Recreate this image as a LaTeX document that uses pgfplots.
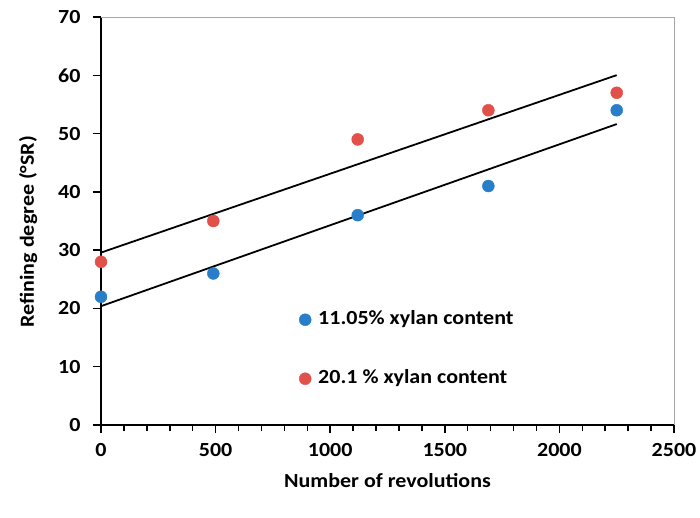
\documentclass[border=0pt]{standalone}
\usepackage{fontspec}
\setmainfont{Carlito}[FakeStretch=1.1]
\usepackage{pgfplots}
\usepackage{pgfplotstable}
\pgfplotsset{compat=1.18}

\definecolor{lowblue}{RGB}{40,126,200}
\definecolor{highred}{RGB}{226,80,74}

% Refining degree vs. number of PFI revolutions
\pgfplotstableread{
x y
0 22
490 26
1120 36
1690 41
2250 54
}\lowxylan
\pgfplotstableread{
x y
0 28
490 35
1120 49
1690 54
2250 57
}\highxylan

\newcommand{\chartfont}{\fontsize{20}{24}\selectfont\bfseries}

\begin{document}
\begin{tikzpicture}
\begin{axis}[
  scale only axis,
  width=573pt, height=408pt,
  xmin=0, xmax=2500, ymin=0, ymax=70,
  axis lines*=left,
  axis line style={line width=1.8pt, black, shorten >=0pt, shorten <=0pt},
  xtick={0,500,...,2500},
  ytick={0,10,...,70},
  minor x tick num=4,
  tick align=outside,
  major tick length=8pt, minor tick length=6pt,
  every tick/.style={line width=1.5pt, black},
  /pgf/number format/assume math mode=true,
  /pgf/number format/1000 sep={},
  tick label style={font=\chartfont},
  xticklabel style={yshift=-7pt},
  yticklabel style={xshift=-9pt},
  every axis x label/.style={at={(axis description cs:0.5,-0.137)}, anchor=center, font=\chartfont},
  every axis y label/.style={at={(axis description cs:-0.127,0.474)}, anchor=center, rotate=90, font=\chartfont},
  xlabel={Number of revolutions},
  ylabel={Refining degree (°SR)},
  legend style={
    at={(axis cs:864,13.0)}, anchor=west,
    draw=none, fill=none, inner sep=0pt,
    font=\chartfont,
    row sep=42pt,
    nodes={inner sep=0pt, text height=13pt, text depth=4pt},
    /tikz/every odd column/.append style={column sep=7pt},
  },
  legend cell align=left,
  legend image code/.code={\draw[#1] plot coordinates {(6pt,0pt)};},
  clip=false,
]
\addplot[only marks, mark=*, mark size=6pt, color=lowblue] table[x=x, y=y] {\lowxylan};
\addlegendentry{11.05\% xylan content}
\addplot[only marks, mark=*, mark size=6pt, color=highred] table[x=x, y=y] {\highxylan};
\addlegendentry{20.1 \% xylan content}

% least-squares trend lines of both series
\addplot[forget plot, black, line width=1.8pt, no marks]
  table[x=x, y={create col/linear regression={y=y}}] {\lowxylan};
\addplot[forget plot, black, line width=1.8pt, no marks]
  table[x=x, y={create col/linear regression={y=y}}] {\highxylan};

% thin frame on the top and right sides
\draw[gray!70, line width=0.8pt] (rel axis cs:0,1) -- (rel axis cs:1,1) -- (rel axis cs:1,0);
\coordinate (bl) at (rel axis cs:0,0);
\coordinate (tr) at (rel axis cs:1,1);
\end{axis}
\path (bl) +(-101pt,-92pt) coordinate (P1);
\path (tr) +(26pt,17pt) coordinate (P2);
\pgfresetboundingbox
\path (P1) rectangle (P2);
\end{tikzpicture}
\end{document}
